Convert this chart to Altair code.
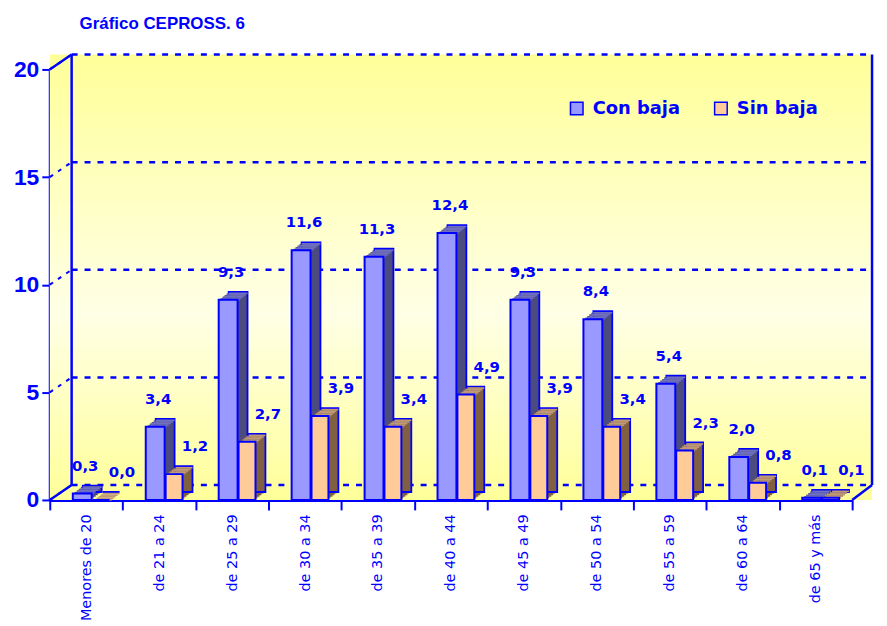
import altair as alt
import pandas as pd

categories = ["Menores de 20", "de 21 a 24", "de 25 a 29", "de 30 a 34", "de 35 a 39",
              "de 40 a 44", "de 45 a 49", "de 50 a 54", "de 55 a 59", "de 60 a 64", "de 65 y más"]
con_baja = [0.3, 3.4, 9.3, 11.6, 11.3, 12.4, 9.3, 8.4, 5.4, 2.0, 0.1]
sin_baja = [0.0, 1.2, 2.7, 3.9, 3.4, 4.9, 3.9, 3.4, 2.3, 0.8, 0.1]
series_names = ["Con baja", "Sin baja"]
y_ticks = [0, 5, 10, 15, 20]
title_text = "Gráfico CEPROSS. 6"

BLUE = "#0000FF"
FONT = "Liberation Sans"
WIDE = "DejaVu Sans"
W, H = 807, 433
DX, DY = 10, 8
N = 5

rows = []
for c, a, b in zip(categories, con_baja, sin_baja):
    rows.append({"cat": c, "series": series_names[0], "v": a})
    rows.append({"cat": c, "series": series_names[1], "v": b})
df = pd.DataFrame(rows)
df["lab"] = df["v"].map(lambda x: f"{x:.1f}".replace(".", ","))

xs = alt.X("cat:N", sort=categories,
           scale=alt.Scale(paddingInner=0, paddingOuter=0),
           axis=alt.Axis(title=None, labelAngle=-90, labelFontSize=14.5, labelColor=BLUE,
                         labelFont=WIDE, domainColor=BLUE, domainWidth=3, tickColor=BLUE,
                         tickWidth=2, tickSize=10, tickBand="extent", labelPadding=4))
yaxis = alt.Axis(title=None, values=y_ticks, labelFontSize=23, labelFontWeight="bold",
                 labelColor=BLUE, labelFont=FONT, domainColor=BLUE, domainWidth=3,
                 tickColor=BLUE, tickWidth=2, tickSize=8, grid=False, labelPadding=3)
yscale = alt.Scale(domain=[0, 20], nice=False)
ys = alt.Y("v:Q", scale=yscale, axis=yaxis)

one = alt.Data(values=[{"a": 1}])
grid_df = pd.DataFrame({"g": y_ticks})

bg = alt.Chart(one).mark_rect(
    color=alt.Gradient(gradient="linear", x1=0, x2=0, y1=0, y2=1,
                       stops=[alt.GradientStop(color="#FFFF99", offset=0),
                              alt.GradientStop(color="#FFFFE6", offset=0.58),
                              alt.GradientStop(color="#FFFF99", offset=1)])
).encode(x=alt.value(0), x2=alt.value(W + 20), y=alt.value(-15), y2=alt.value(H))

gy = alt.Y("g:Q", scale=yscale, axis=yaxis)
grid = alt.Chart(grid_df).mark_rule(color=BLUE, strokeWidth=2.5, strokeDash=[6, 7], yOffset=-15).encode(
    y=gy, x=alt.value(22), x2=alt.value(W + 20))
side_grid = alt.Chart(grid_df).mark_rule(color=BLUE, strokeWidth=2, strokeDash=[4, 6], y2Offset=-15).encode(
    y=gy, y2="g:Q", x=alt.value(0), x2=alt.value(22))

def frame(x1, x2, y1, y2):
    return alt.Chart(one).mark_rule(color=BLUE, strokeWidth=2.5).encode(
        x=alt.value(x1), x2=alt.value(x2), y=alt.value(y1), y2=alt.value(y2))

frames = [frame(22, 22, -15, H - 15), frame(W + 20, W + 20, -15, H - 15),
          frame(0, 22, 0, -15), frame(W, W + 20, H, H - 15), frame(0, 22, H, H - 15)]

specs = [
    (series_names[0], "#9999FF", "#7070C0", "#4B4B80", -4, 19, 3),
    (series_names[1], "#FFCC99", "#C09A78", "#806040", 15, 17, 21),
]

layers = [bg, side_grid, grid] + frames
color_enc = alt.Color("series:N", scale=alt.Scale(domain=series_names, range=["#9999FF", "#FFCC99"]),
                      legend=alt.Legend(title=None, orient="none", legendX=521, legendY=30,
                                        direction="horizontal", labelFontSize=18,
                                        labelFontWeight="bold", labelColor=BLUE, labelFont=WIDE,
                                        symbolType="square", symbolSize=160,
                                        symbolStrokeColor=BLUE, symbolStrokeWidth=1.5,
                                        columnPadding=30, labelOffset=7, padding=0))

for name, front, top, side, xoff, w, loff in specs:
    base = alt.Chart(df).transform_filter(alt.datum.series == name)
    for k in range(1, N + 1):
        extra = {"stroke": BLUE, "strokeWidth": 1.8} if k == N else {}
        layers.append(base.mark_bar(color=side, width=w, xOffset=xoff + k * DX / N,
                                    yOffset=-k * DY / N, y2Offset=-k * DY / N, **extra)
                      .encode(x=xs, y=ys))
    for k in range(1, N + 1):
        layers.append(base.mark_bar(color=top, width=w, xOffset=xoff + k * DX / N,
                                    yOffset=-k * DY / N + 0.75,
                                    y2Offset=-(k - 1) * DY / N + 0.75)
                      .encode(x=xs, y=ys, y2="v:Q"))
    layers.append(base.mark_bar(width=w, xOffset=xoff, stroke=BLUE, strokeWidth=2)
                  .encode(x=xs, y=ys, color=color_enc))

for name, front, top, side, xoff, w, loff in specs:
    base = alt.Chart(df).transform_filter(alt.datum.series == name)
    layers.append(base.mark_text(fontSize=15, fontWeight="bold", font=WIDE, color=BLUE,
                                 baseline="bottom", xOffset=xoff + loff, yOffset=-20)
                  .encode(x=xs, y=ys, text="lab:N"))

title = alt.Chart(one).mark_text(text=title_text, fontSize=17, fontWeight="bold", font=FONT,
                                 color=BLUE, align="left", baseline="top").encode(
    x=alt.value(30), y=alt.value(-54))
layers.append(title)

chart = alt.layer(*layers).properties(width=W, height=H).configure_view(stroke=None)
chart.save("out.html", embed_options={"renderer": "svg", "actions": False})
